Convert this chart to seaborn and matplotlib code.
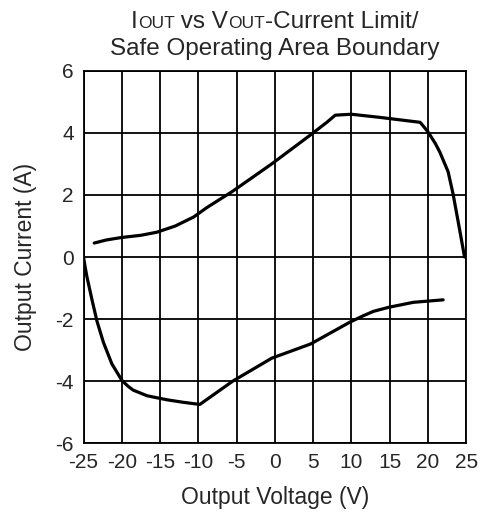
import matplotlib
matplotlib.use("Agg")
import matplotlib.pyplot as plt
import seaborn as sns
import pandas as pd

sns.set_style("white")
plt.rcParams['font.family'] = ['Liberation Sans', 'DejaVu Sans']
plt.rcParams['axes.unicode_minus'] = False

# upper boundary (sourcing current)
upper_v = [-23.6, -22.0, -20.0, -17.5, -15.4, -13.0, -10.6, -8.9, -5.5, -0.4, 4.7, 6.8, 7.9,
           10.0, 13.7, 17.0, 19.0, 20.0, 21.0, 21.55, 22.65, 23.3, 23.95, 24.8]
upper_i = [0.45, 0.55, 0.63, 0.70, 0.80, 1.00, 1.29, 1.59, 2.12, 3.0, 3.94, 4.34, 4.57,
           4.6, 4.5, 4.4, 4.34, 4.04, 3.65, 3.39, 2.75, 2.03, 1.16, 0.0]

# lower boundary (sinking current)
lower_v = [-25.0, -24.8, -24.56, -23.9, -23.25, -22.4, -21.3, -20.0, -19.2, -18.5, -16.7, -14.1,
           -12.0, -9.8, -5.5, -0.4, 4.7, 9.8, 11.5, 12.9, 14.9, 18.1, 22.0]
lower_i = [0.0, -0.3, -0.63, -1.37, -2.06, -2.75, -3.44, -3.97, -4.16, -4.29, -4.47, -4.6,
           -4.68, -4.75, -4.0, -3.26, -2.8, -2.1, -1.9, -1.75, -1.62, -1.46, -1.38]

x_ticks = [-25, -20, -15, -10, -5, 0, 5, 10, 15, 20, 25]
y_ticks = [-6, -4, -2, 0, 2, 4, 6]

up = pd.DataFrame({"v": upper_v, "i": upper_i})
lo = pd.DataFrame({"v": lower_v, "i": lower_i})

fig = plt.figure(figsize=(4.8, 5.13), dpi=100)
ax = fig.add_axes([0.174, 0.136, 0.797, 0.726])

for x in x_ticks:
    ax.axvline(x, color="black", lw=1.3, zorder=1)
for y in y_ticks:
    ax.axhline(y, color="black", lw=1.3, zorder=1)

sns.lineplot(data=up, x="v", y="i", sort=False, color="black", lw=2.3, ax=ax, zorder=3)
sns.lineplot(data=lo, x="v", y="i", sort=False, color="black", lw=2.3, ax=ax, zorder=3)

ax.set_xlim(-25, 25)
ax.set_ylim(-6, 6)
ax.set_xticks(x_ticks)
ax.set_yticks(y_ticks)
ax.tick_params(length=0, labelsize=15, pad=7)
for s in ax.spines.values():
    s.set_color("black")
    s.set_linewidth(1.3)

ax.set_xlabel("Output Voltage (V)", fontsize=16.5, labelpad=10)
ax.set_ylabel("Output Current (A)", fontsize=16.5, labelpad=13)

# title with small-caps subscripts, built piece by piece
big = 17.5
small = 12.5
pieces = [("I", big), ("OUT", small), (" vs V", big), ("OUT", small), ("-Current Limit/", big)]
renderer = fig.canvas.get_renderer()
fw = fig.get_figwidth() * fig.dpi
texts = []
for s, fs in pieces:
    t = fig.text(0, 0.945, s, fontsize=fs, va="baseline", ha="left")
    texts.append(t)
widths = [t.get_window_extent(renderer).width / fw for t in texts]
cx = 0.174 + 0.797 / 2
x0 = cx - sum(widths) / 2
for t, w in zip(texts, widths):
    t.set_x(x0)
    x0 += w
fig.text(cx, 0.892, "Safe Operating Area Boundary", fontsize=big, ha="center", va="baseline")

fig.savefig("out.png", dpi=100)
